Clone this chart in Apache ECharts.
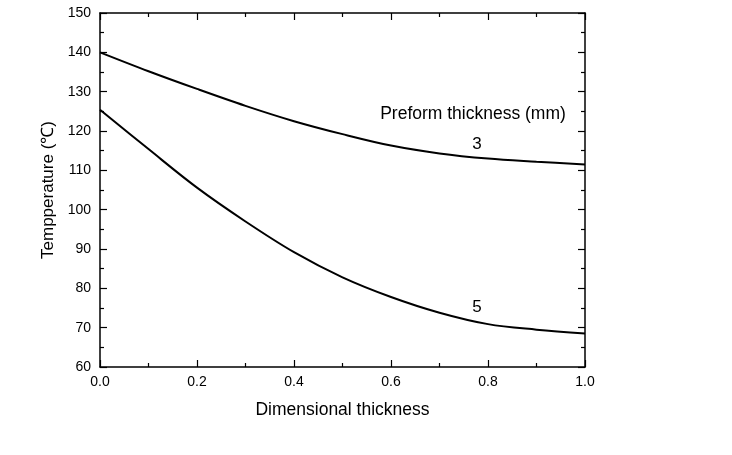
<!DOCTYPE html>
<html>
<head>
<meta charset="utf-8">
<script src="https://cdn.jsdelivr.net/npm/echarts@6/dist/echarts.min.js"></script>
<style>html,body{margin:0;padding:0;background:#fff}#c{width:732px;height:455px}</style>
</head>
<body>
<div id="c"></div>
<script>
const xValues = [0, 0.1, 0.2, 0.3, 0.4, 0.5, 0.6, 0.7, 0.8, 0.9, 1.0];
const temp3mm = [140.0, 135.2, 130.7, 126.4, 122.5, 119.2, 116.3, 114.3, 113.0, 112.2, 111.5];
const temp5mm = [125.4, 115.4, 105.6, 97.0, 89.2, 82.8, 77.8, 73.8, 70.9, 69.5, 68.5];
const seriesNames = ['3', '5'];
const legendTitle = 'Preform thickness (mm)';
const xTitle = 'Dimensional thickness';
const yTitle = 'Tempperature (\u2103)';

const chart = echarts.init(document.getElementById('c'), null, {renderer: 'canvas'});
const font = 'Arial, "Liberation Sans", sans-serif';
const axisLine = {show: true, onZero: false, lineStyle: {color: '#000', width: 1.5}};
const axisTick = {show: true, inside: true, length: 7, lineStyle: {color: '#000', width: 1.2}};
const minorTick = {show: true, splitNumber: 2, length: 4, lineStyle: {color: '#000', width: 1.2}};
const pair = arr => xValues.map((x, i) => [x, arr[i]]);

chart.setOption({
  animation: false,
  backgroundColor: '#fff',
  grid: {left: 100, top: 13, right: 147, bottom: 88, containLabel: false},
  xAxis: [{
    type: 'value', min: 0, max: 1, interval: 0.2, position: 'bottom',
    axisLine, axisTick, minorTick,
    splitLine: {show: false},
    axisLabel: {color: '#000', fontFamily: font, fontSize: 14, margin: 8, formatter: v => v.toFixed(1)},
    name: xTitle, nameLocation: 'middle', nameGap: 34,
    nameTextStyle: {color: '#000', fontFamily: font, fontSize: 17.5}
  }, {
    type: 'value', min: 0, max: 1, interval: 0.2, position: 'top',
    axisLine, axisTick, minorTick, splitLine: {show: false}, axisLabel: {show: false}
  }],
  yAxis: [{
    type: 'value', min: 60, max: 150, interval: 10, position: 'left',
    axisLine, axisTick, minorTick, splitLine: {show: false},
    axisLabel: {color: '#000', fontFamily: font, fontSize: 14, margin: 9},
    name: yTitle, nameLocation: 'middle', nameGap: 36,
    nameTextStyle: {color: '#000', fontFamily: font, fontSize: 17}
  }, {
    type: 'value', min: 60, max: 150, interval: 10, position: 'right',
    axisLine, axisTick, minorTick, splitLine: {show: false}, axisLabel: {show: false}
  }],
  series: [{
    name: seriesNames[0], type: 'line', data: pair(temp3mm), smooth: 0.35, symbol: 'none',
    lineStyle: {color: '#000', width: 2}
  }, {
    name: seriesNames[1], type: 'line', data: pair(temp5mm), smooth: 0.35, symbol: 'none',
    lineStyle: {color: '#000', width: 2}
  }],
  graphic: [
    {type: 'text', x: 473, y: 114, style: {text: legendTitle, fill: '#000', font: '17.5px ' + font, textAlign: 'center', textVerticalAlign: 'middle'}},
    {type: 'text', x: 477, y: 144, style: {text: seriesNames[0], fill: '#000', font: '17px ' + font, textAlign: 'center', textVerticalAlign: 'middle'}},
    {type: 'text', x: 477, y: 307, style: {text: seriesNames[1], fill: '#000', font: '17px ' + font, textAlign: 'center', textVerticalAlign: 'middle'}}
  ]
});
</script>
</body>
</html>
